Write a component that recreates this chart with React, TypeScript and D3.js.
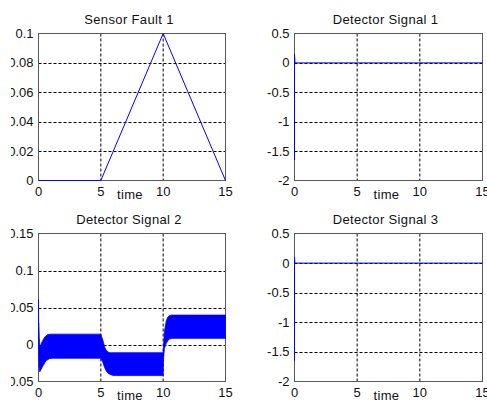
import React from 'react';
import * as d3 from 'd3';

const W = 487;
const H = 401;

const timeTicks = [0, 5, 10, 15];

const faultT = [0, 5, 10, 15];
const faultV = [0, 0, 0.1, 0];
const faultTicks = [0, 0.02, 0.04, 0.06, 0.08, 0.1];

const det1T = [0, 0, 0.04, 15];
const det1V = [-1.65, 0.15, 0, 0];
const det1Ticks = [-2, -1.5, -1, -0.5, 0, 0.5];

const det3T = [0, 0, 0.03, 0.1, 15];
const det3V = [-1.65, 0.1, 0.01, 0, 0];
const det3Ticks = [-2, -1.5, -1, -0.5, 0, 0.5];

const det2UpperT = [0, 0.01, 0.03, 0.06, 0.1, 0.15, 0.3, 0.5, 0.75, 1.0, 5.0, 5.16, 5.3, 5.43, 5.62, 5.75, 10.0, 10.1, 10.24, 10.37, 10.5, 10.64, 15];
const det2UpperV = [0.061, 0.03, 0.029, 0.01, 0.0, -0.002, 0.004, 0.01, 0.0135, 0.014, 0.014, 0.006, -0.0033, -0.0079, -0.0105, -0.0111, -0.0111, 0.0175, 0.0314, 0.037, 0.039, 0.0397, 0.0397];
const det2LowerT = [0, 0.04, 0.1, 0.35, 0.6, 0.9, 1.2, 5.0, 5.16, 5.3, 5.43, 5.62, 5.92, 6.2, 10.0, 10.03, 10.1, 10.24, 10.37, 10.5, 10.77, 15];
const det2LowerV = [0.0, -0.03, -0.037, -0.029, -0.022, -0.019, -0.0186, -0.0186, -0.0241, -0.0311, -0.0357, -0.0394, -0.0417, -0.042, -0.042, -0.02, -0.0056, 0.0014, 0.005, 0.0074, 0.0083, 0.0083];
const det2Ticks = [-0.05, 0, 0.05, 0.1, 0.15];

const titles = ['Sensor Fault 1', 'Detector Signal 1', 'Detector Signal 2', 'Detector Signal 3'];
const xLabel = 'time';

const FONT = '"Liberation Sans", Arial, sans-serif';
const BLUE = '#0000ff';

type PanelProps = {
  id: string;
  title: string;
  left: number;
  right: number;
  top: number;
  bottom: number;
  yTicks: number[];
  clipLabels: boolean;
  children: (x: d3.ScaleLinear<number, number>, y: d3.ScaleLinear<number, number>) => React.ReactNode;
};

function Panel({ id, title, left, right, top, bottom, yTicks, clipLabels, children }: PanelProps) {
  const x = d3.scaleLinear().domain([0, 15]).range([left, right]);
  const y = d3.scaleLinear().domain([yTicks[0], yTicks[yTicks.length - 1]]).range([bottom, top]);
  const cx = (left + right) / 2;
  return (
    <g>
      {timeTicks.slice(1, -1).map((t) => (
        <line key={'gx' + t} x1={x(t)} x2={x(t)} y1={top} y2={bottom} stroke="#000" strokeWidth={1} strokeDasharray="3,2" />
      ))}
      {yTicks.slice(1, -1).map((v) => (
        <line key={'gy' + v} x1={left} x2={right} y1={Math.round(y(v)) + 0.5} y2={Math.round(y(v)) + 0.5} stroke="#000" strokeWidth={1} strokeDasharray="3,2" />
      ))}
      <rect x={left} y={top} width={right - left} height={bottom - top} fill="none" stroke="#5a5a5a" strokeWidth={1} />
      {children(x, y)}
      <text x={cx - 3} y={top - 10} textAnchor="middle" fontSize={13} letterSpacing={0.35} fontFamily={FONT} fill="#111">{title}</text>
      {timeTicks.map((t) => (
        <text key={'xt' + t} x={x(t)} y={bottom + 15} textAnchor="middle" fontSize={13} fontFamily={FONT} fill="#111">{String(t)}</text>
      ))}
      <text x={cx - 2} y={bottom + 18} textAnchor="middle" fontSize={13} letterSpacing={0.3} fontFamily={FONT} fill="#111">{xLabel}</text>
      <g clipPath={clipLabels ? `url(#${id}-clip)` : undefined}>
        {yTicks.map((v) => (
          <text key={'yt' + v} x={left - 5} y={y(v)} dy="0.35em" textAnchor="end" fontSize={13} fontFamily={FONT} fill="#111">{String(v)}</text>
        ))}
      </g>
      {clipLabels && (
        <defs>
          <clipPath id={`${id}-clip`}>
            <rect x={11} y={0} width={W} height={H} />
          </clipPath>
        </defs>
      )}
    </g>
  );
}

function linePath(ts: number[], vs: number[], x: any, y: any) {
  const gen = d3.line<number>().x((_, i) => x(ts[i])).y((_, i) => y(vs[i]));
  return gen(ts.map((_, i) => i)) || '';
}

function bandPath(x: any, y: any) {
  const pts: [number, number][] = [];
  det2UpperT.forEach((t, i) => pts.push([x(t), y(det2UpperV[i])]));
  for (let i = det2LowerT.length - 1; i >= 0; i--) pts.push([x(det2LowerT[i]), y(det2LowerV[i])]);
  return (d3.line()(pts) || '') + 'Z';
}

export default function App() {
  const L1 = 38.5, R1 = 225.5, L2 = 294.5, R2 = 482.5;
  const T1 = 33.5, B1 = 180.5, T2 = 233.5, B2 = 381.5;
  return (
    <svg width={W} height={H} style={{ position: 'fixed', left: 0, top: 0, background: '#fff' }}>
      <rect x={0} y={0} width={W} height={H} fill="#fff" />
      <Panel id="p1" title={titles[0]} left={L1} right={R1} top={T1} bottom={B1} yTicks={faultTicks} clipLabels>
        {(x, y) => <path d={linePath(faultT, faultV, x, y)} fill="none" stroke={BLUE} strokeWidth={1} />}
      </Panel>
      <Panel id="p2" title={titles[1]} left={L2} right={R2} top={T1} bottom={B1} yTicks={det1Ticks} clipLabels={false}>
        {(x, y) => <path d={linePath(det1T, det1V, x, y)} fill="none" stroke={BLUE} strokeWidth={1} />}
      </Panel>
      <Panel id="p3" title={titles[2]} left={L1} right={R1} top={T2} bottom={B2} yTicks={det2Ticks} clipLabels>
        {(x, y) => <path d={bandPath(x, y)} fill={BLUE} stroke={BLUE} strokeWidth={0.8} />}
      </Panel>
      <Panel id="p4" title={titles[3]} left={L2} right={R2} top={T2} bottom={B2} yTicks={det3Ticks} clipLabels={false}>
        {(x, y) => <path d={linePath(det3T, det3V, x, y)} fill="none" stroke={BLUE} strokeWidth={1} />}
      </Panel>
    </svg>
  );
}
